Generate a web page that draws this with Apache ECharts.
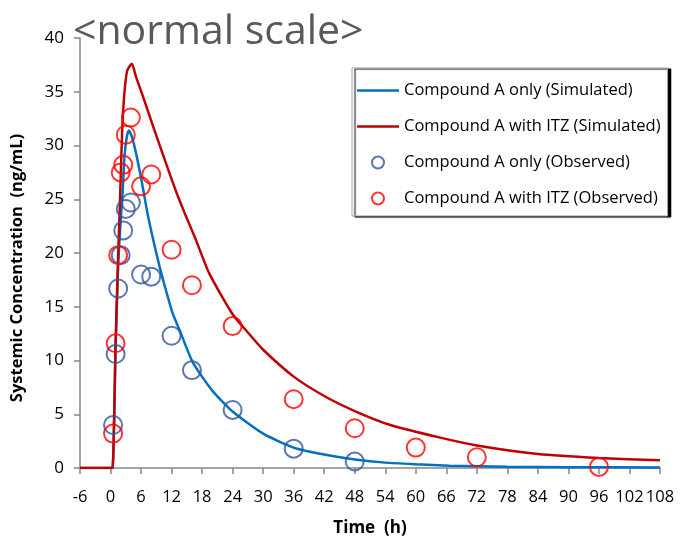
<!DOCTYPE html>
<html>
<head>
<meta charset="utf-8">
<script src="https://cdn.jsdelivr.net/npm/echarts@6/dist/echarts.min.js"></script>
<style>html,body{margin:0;padding:0;background:#fff}#c{width:681px;height:542px}</style>
</head>
<body>
<div id="c"></div>
<script>
// Simulated: Compound A only
const simBlueT = [-6, 0, 0.4, 1, 1.5, 2, 2.4, 2.75, 3.2, 3.6, 4.2, 5.05, 6.35, 7.3, 8.5, 9.6, 10.5, 12.2, 13.6, 16.2, 20, 24, 30, 36, 42, 48, 54, 60, 66.6, 78, 90, 108];
const simBlueC = [0, 0, 0, 11.2, 18.8, 23.0, 25.8, 29.0, 30.8, 31.4, 30.8, 29.2, 26.1, 23.6, 21.0, 18.8, 17.2, 14.4, 12.8, 9.8, 7.2, 5.25, 3.2, 1.9, 1.25, 0.8, 0.5, 0.35, 0.22, 0.12, 0.08, 0.05];
// Simulated: Compound A with ITZ
const simRedT = [-6, 0, 0.4, 1, 1.5, 1.8, 2, 2.3, 2.75, 3.3, 4.2, 5, 6.35, 8, 9.6, 11.6, 12.9, 14.5, 16.8, 19.4, 24, 27, 30, 36, 42, 48, 55, 65, 72, 84, 96, 108];
const simRedC = [0, 0, 0, 11.7, 19.8, 24.0, 27.0, 31.5, 35.0, 37.0, 37.6, 36.4, 34.6, 32.3, 30.1, 27.4, 25.7, 23.8, 21.2, 18.1, 14.3, 12.6, 11.0, 8.5, 6.7, 5.3, 4.0, 2.8, 2.1, 1.3, 0.93, 0.71];
// Observed: Compound A only
const obsBlueT = [0.5, 1, 1.5, 2, 2.5, 3, 4, 6, 8, 12, 16, 24, 36, 48];
const obsBlueC = [4.0, 10.6, 16.7, 19.8, 22.1, 24.1, 24.7, 18.0, 17.8, 12.3, 9.1, 5.4, 1.8, 0.6];
// Observed: Compound A with ITZ
const obsRedT = [0.5, 1, 1.5, 2, 2.5, 3, 4, 6, 8, 12, 16, 24, 36, 48, 60, 72, 96];
const obsRedC = [3.2, 11.6, 19.8, 27.5, 28.2, 31.0, 32.6, 26.2, 27.3, 20.3, 17.0, 13.2, 6.4, 3.7, 1.9, 1.0, 0.1];

const seriesNames = ['Compound A only (Simulated)', 'Compound A with ITZ (Simulated)', 'Compound A only (Observed)', 'Compound A with ITZ (Observed)'];
const titleText = '<normal scale>';
const xName = 'Time  (h)';
const yName = 'Systemic Concentration  (ng/mL)';

const zip = (a, b) => a.map((v, i) => [v, b[i]]);
const chart = echarts.init(document.getElementById('c'), null, {renderer: 'canvas'});
const font = '"Open Sans", "Noto Sans", sans-serif';
const lineIcon = 'path://M0,0L42,0L42,2.6L0,2.6Z';
chart.setOption({
  animation: false,
  backgroundColor: '#fff',
  title: {
    text: titleText, left: 68, top: 7,
    textStyle: {fontFamily: font, fontSize: 41, fontWeight: 'normal', color: '#595959'}
  },
  grid: {left: 80, right: 21, top: 38, bottom: 72, containLabel: false},
  legend: {
    orient: 'vertical', left: 352, top: 68,
    backgroundColor: '#fff', borderColor: '#a6a6a6', borderWidth: 1,
    shadowColor: '#000', shadowOffsetX: 3, shadowOffsetY: 1, shadowBlur: 1,
    padding: [14, 7, 9, 5], itemGap: 19, itemWidth: 42, itemHeight: 12,
    textStyle: {fontFamily: font, fontSize: 16.5, color: '#000'},
    data: [
      {name: seriesNames[0], icon: lineIcon},
      {name: seriesNames[1], icon: lineIcon},
      {name: seriesNames[2]},
      {name: seriesNames[3]}
    ]
  },
  xAxis: {
    type: 'value', min: -6, max: 108, interval: 6,
    name: xName, nameLocation: 'middle', nameGap: 52,
    nameTextStyle: {fontFamily: font, fontSize: 17, fontWeight: 'bold', color: '#000'},
    axisLine: {show: true, onZero: false, lineStyle: {color: '#868686', width: 1.5}},
    axisTick: {show: true, length: 6, lineStyle: {color: '#868686', width: 1.5}},
    axisLabel: {fontFamily: font, fontSize: 16.5, color: '#000', margin: 21, hideOverlap: false},
    splitLine: {show: false}
  },
  yAxis: {
    type: 'value', min: 0, max: 40, interval: 5,
    name: yName, nameLocation: 'middle', nameGap: 54,
    nameTextStyle: {fontFamily: font, fontSize: 16.5, fontWeight: 'bold', color: '#000', padding: [0, 30, 0, 0]},
    axisLine: {show: true, onZero: false, lineStyle: {color: '#868686', width: 1.5}},
    axisTick: {show: true, length: 6, lineStyle: {color: '#868686', width: 1.5}},
    axisLabel: {fontFamily: font, fontSize: 17, color: '#000', margin: 16},
    splitLine: {show: false}
  },
  series: [
    {name: seriesNames[0], type: 'line', data: zip(simBlueT, simBlueC), symbol: 'none', smooth: 0.2,
     lineStyle: {color: '#0070C0', width: 2.5}, itemStyle: {color: '#0070C0'}, z: 2},
    {name: seriesNames[1], type: 'line', data: zip(simRedT, simRedC), symbol: 'none', smooth: 0.2,
     lineStyle: {color: '#C00000', width: 2.5}, itemStyle: {color: '#C00000'}, z: 3},
    {name: seriesNames[2], type: 'scatter', data: zip(obsBlueT, obsBlueC), symbol: 'circle', symbolSize: 18,
     itemStyle: {color: 'rgba(0,0,0,0)', borderColor: '#2F5597', borderWidth: 2}, z: 4},
    {name: seriesNames[3], type: 'scatter', data: zip(obsRedT, obsRedC), symbol: 'circle', symbolSize: 18,
     itemStyle: {color: 'rgba(0,0,0,0)', borderColor: '#FF0000', borderWidth: 2}, z: 5}
  ]
});
</script>
</body>
</html>
